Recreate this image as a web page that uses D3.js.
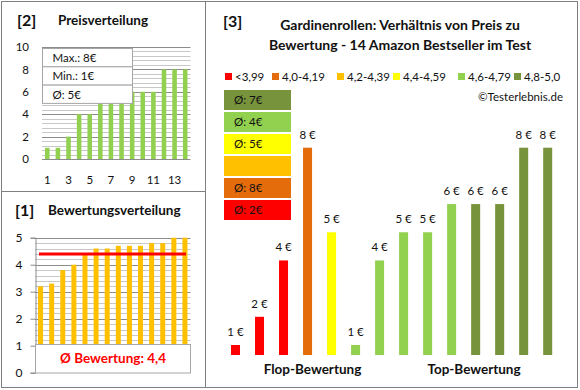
<!DOCTYPE html>
<html>
<head>
<meta charset="utf-8">
<script src="https://cdn.jsdelivr.net/npm/d3@7"></script>
<style>
  body { margin: 0; background: #fff; }
  text { font-family: Lato, "Open Sans", sans-serif; fill: #111; }
</style>
</head>
<body>
<div id="chart"></div>
<script>
// panel [2] - prices sorted
const prices = [1, 1, 2, 4, 4, 5, 5, 5, 6, 6, 6, 8, 8, 8]
const priceTicks = [0, 2, 4, 6, 8, 10]
const priceXTicks = [1, 3, 5, 7, 9, 11, 13]
const priceStats = ["Max.: 8€", "Min.: 1€", "Ø: 5€"]

// panel [1] - ratings sorted
const ratings = [3.2, 3.3, 3.8, 4.0, 4.4, 4.6, 4.6, 4.7, 4.7, 4.7, 4.8, 4.8, 5.0, 5.0]
const ratingTicks = [0, 1, 2, 3, 4, 5]
const avgRating = 4.4
const avgRatingLabel = "Ø Bewertung: 4,4"

// panel [3] - price per product ordered by rating
const pricesByRating = [1, 2, 4, 8, 5, 1, 4, 5, 5, 6, 6, 6, 8, 8]
const ratingClass = [0, 0, 0, 1, 3, 4, 4, 4, 4, 4, 5, 5, 5, 5]
const classLabels = ["<3,99", "4,0-4,19", "4,2-4,39", "4,4-4,59", "4,6-4,79", "4,8-5,0"]
const classColors = ["#ff0000", "#e46c0a", "#ffc000", "#ffff00", "#92d050", "#77933c"]
const classAvg = ["Ø: 2€", "Ø: 8€", "", "Ø: 5€", "Ø: 4€", "Ø: 7€"]

const w = 580
const h = 390

const svg = d3.select("#chart")
  .append("svg")
  .attr("width", w)
  .attr("height", h)

// frames
svg.append("rect").attr("x", 1.5).attr("y", 1.5).attr("width", 576).attr("height", 386)
  .attr("fill", "none").attr("stroke", "#808080")
svg.append("line").attr("x1", 205.5).attr("x2", 205.5).attr("y1", 1.5).attr("y2", 387.5).attr("stroke", "#808080")
svg.append("line").attr("x1", 1.5).attr("x2", 205.5).attr("y1", 191.5).attr("y2", 191.5).attr("stroke", "#808080")

// helper for gridlines
function grid(g, yScale, values, x1, x2, color) {
  g.selectAll(null)
    .data(values)
    .enter()
    .append("line")
    .attr("x1", x1).attr("x2", x2)
    .attr("y1", d => Math.round(yScale(d)) + 0.5)
    .attr("y2", d => Math.round(yScale(d)) + 0.5)
    .attr("stroke", color)
}

// ---------- panel [2] Preisverteilung ----------
const p2 = svg.append("g")
p2.append("text").attr("x", 17).attr("y", 26).style("font-size", "16px").style("font-weight", "bold").text("[2]")
p2.append("text").attr("x", 58).attr("y", 25).style("font-size", "13.5px").style("font-weight", "bold").text("Preisverteilung")

const x2 = d3.scaleBand()
  .domain(d3.range(1, prices.length + 1))
  .range([42, 190.5])
  .paddingInner(0.57)
  .paddingOuter(0.285)
const y2 = d3.scaleLinear().domain([0, 10]).range([159, 47])

grid(p2, y2, d3.range(0, 10.01, 0.4).filter(v => Math.abs(v / 2 - Math.round(v / 2)) > 0.01), 42, 190.5, "#c8c8c8")
grid(p2, y2, priceTicks, 42, 190.5, "#8c8c8c")

p2.selectAll("rect.bar")
  .data(prices)
  .enter()
  .append("rect")
  .attr("class", "bar")
  .attr("x", (d, i) => x2(i + 1))
  .attr("width", x2.bandwidth())
  .attr("y", d => y2(d))
  .attr("height", d => y2(0) - y2(d))
  .attr("fill", "#92d050")

const y2Axis = p2.append("g")
  .attr("transform", "translate(42,0)")
  .call(d3.axisLeft(y2).tickValues(priceTicks).tickFormat(d3.format("d")).tickSize(0).tickPadding(13))
y2Axis.select(".domain").remove()
const x2Axis = p2.append("g")
  .attr("transform", "translate(0," + y2(0) + ")")
  .call(d3.axisBottom(x2).tickValues(priceXTicks).tickSize(0).tickPadding(17))
x2Axis.select(".domain").remove()
p2.selectAll(".tick text").style("font-size", "11.5px").style("font-family", "Lato, sans-serif").attr("fill", "#1a1a3a")

// stats box
const statsBox = p2.append("g").attr("transform", "translate(42.5,48.5)")
statsBox.selectAll(null)
  .data(priceStats)
  .enter()
  .append("rect")
  .attr("x", 0).attr("y", (d, i) => i * 18.3)
  .attr("width", 90).attr("height", 18.3)
  .attr("fill", "#fff").attr("stroke", "#a6a6a6")
statsBox.selectAll(null)
  .data(priceStats)
  .enter()
  .append("text")
  .attr("x", 10).attr("y", (d, i) => i * 18.3 + 13.5)
  .style("font-size", "11.5px")
  .text(d => d)

// ---------- panel [1] Bewertungsverteilung ----------
const p1 = svg.append("g")
p1.append("text").attr("x", 15).attr("y", 216).style("font-size", "16px").style("font-weight", "bold").text("[1]")
p1.append("text").attr("x", 48).attr("y", 215).style("font-size", "13.5px").style("font-weight", "bold").text("Bewertungsverteilung")

const x1 = d3.scaleBand()
  .domain(d3.range(1, ratings.length + 1))
  .range([35, 190.5])
  .paddingInner(0.55)
  .paddingOuter(0.275)
const y1 = d3.scaleLinear().domain([0, 5]).range([372.7, 237.7])

grid(p1, y1, d3.range(1, 5.01, 0.2).filter(v => Math.abs(v - Math.round(v)) > 0.01), 35, 190.5, "#c8c8c8")
grid(p1, y1, ratingTicks.filter(v => v > 0), 35, 190.5, "#8c8c8c")

p1.selectAll("rect.bar")
  .data(ratings)
  .enter()
  .append("rect")
  .attr("class", "bar")
  .attr("x", (d, i) => x1(i + 1))
  .attr("width", x1.bandwidth())
  .attr("y", d => y1(d))
  .attr("height", d => y1(1) - y1(d))
  .attr("fill", "#ffc000")

p1.append("line")
  .attr("x1", 39).attr("x2", 186)
  .attr("y1", y1(avgRating)).attr("y2", y1(avgRating))
  .attr("stroke", "#ff0000").attr("stroke-width", 3)

const y1Axis = p1.append("g")
  .attr("transform", "translate(35.5,0)")
  .call(d3.axisLeft(y1).tickValues(ratingTicks).tickFormat(d3.format("d")).tickSize(5).tickPadding(8))
y1Axis.select(".domain").attr("stroke", "#8c8c8c")
y1Axis.selectAll(".tick line").attr("stroke", "#8c8c8c")
y1Axis.selectAll(".tick text").style("font-size", "12px").style("font-family", "Lato, sans-serif").attr("fill", "#1a1a3a")

p1.append("rect").attr("x", 35.5).attr("y", 344.5).attr("width", 155).attr("height", 28.5)
  .attr("fill", "#fff").attr("stroke", "#a6a6a6")
p1.append("text").attr("x", 113).attr("y", 363).attr("text-anchor", "middle")
  .style("font-size", "13.5px").style("font-weight", "bold").style("fill", "#ff0000")
  .text(avgRatingLabel)

// ---------- panel [3] Preis vs Bewertung ----------
const p3 = svg.append("g")
p3.append("text").attr("x", 223).attr("y", 27).style("font-size", "16px").style("font-weight", "bold").text("[3]")
p3.append("text").attr("x", 400).attr("y", 30).attr("text-anchor", "middle")
  .style("font-size", "14px").style("font-weight", "bold").text("Gardinenrollen: Verhältnis von Preis zu")
p3.append("text").attr("x", 400).attr("y", 50).attr("text-anchor", "middle")
  .style("font-size", "14px").style("font-weight", "bold").text("Bewertung - 14 Amazon Bestseller im Test")

// legend
const legendX = [225, 272, 337, 393, 458, 514]
const legend = p3.selectAll("g.leg")
  .data(classLabels)
  .enter()
  .append("g")
  .attr("class", "leg")
  .attr("transform", (d, i) => "translate(" + legendX[i] + ",77)")
legend.append("rect").attr("x", 0).attr("y", -4).attr("width", 7).attr("height", 7)
  .attr("fill", (d, i) => classColors[i])
legend.append("text").attr("x", 10).attr("y", 4).style("font-size", "11.5px").text(d => d)

p3.append("text").attr("x", 563).attr("y", 101).attr("text-anchor", "end")
  .style("font-size", "11.5px").text("©Testerlebnis.de")

// average boxes
const avgBoxes = p3.selectAll("g.avg")
  .data(classAvg)
  .enter()
  .append("g")
  .attr("class", "avg")
  .attr("transform", (d, i) => "translate(224," + (90 + (5 - i) * 22) + ")")
avgBoxes.append("rect").attr("width", 67).attr("height", 20).attr("fill", (d, i) => classColors[i])
avgBoxes.append("text").attr("x", 10).attr("y", 14).style("font-size", "11.5px").text(d => d)

// bars
const x3 = d3.scaleBand()
  .domain(d3.range(pricesByRating.length))
  .range([223.5, 559.7])
  .paddingInner(0.625)
  .paddingOuter(0.3125)
const y3 = d3.scaleLinear().domain([0.645, 8]).range([355, 147.7])

p3.selectAll("rect.bar")
  .data(pricesByRating)
  .enter()
  .append("rect")
  .attr("class", "bar")
  .attr("x", (d, i) => x3(i))
  .attr("width", x3.bandwidth())
  .attr("y", d => y3(d))
  .attr("height", d => y3.range()[0] - y3(d))
  .attr("fill", (d, i) => classColors[ratingClass[i]])

p3.selectAll("text.val")
  .data(pricesByRating)
  .enter()
  .append("text")
  .attr("class", "val")
  .attr("x", (d, i) => x3(i) + x3.bandwidth() / 2)
  .attr("y", d => y3(d) - 9)
  .attr("text-anchor", "middle")
  .style("font-size", "11.5px")
  .text(d => d + " €")

p3.append("text").attr("x", 312.5).attr("y", 374).attr("text-anchor", "middle")
  .style("font-size", "13.5px").style("font-weight", "bold").text("Flop-Bewertung")
p3.append("text").attr("x", 474).attr("y", 374).attr("text-anchor", "middle")
  .style("font-size", "13.5px").style("font-weight", "bold").text("Top-Bewertung")
</script>
</body>
</html>
